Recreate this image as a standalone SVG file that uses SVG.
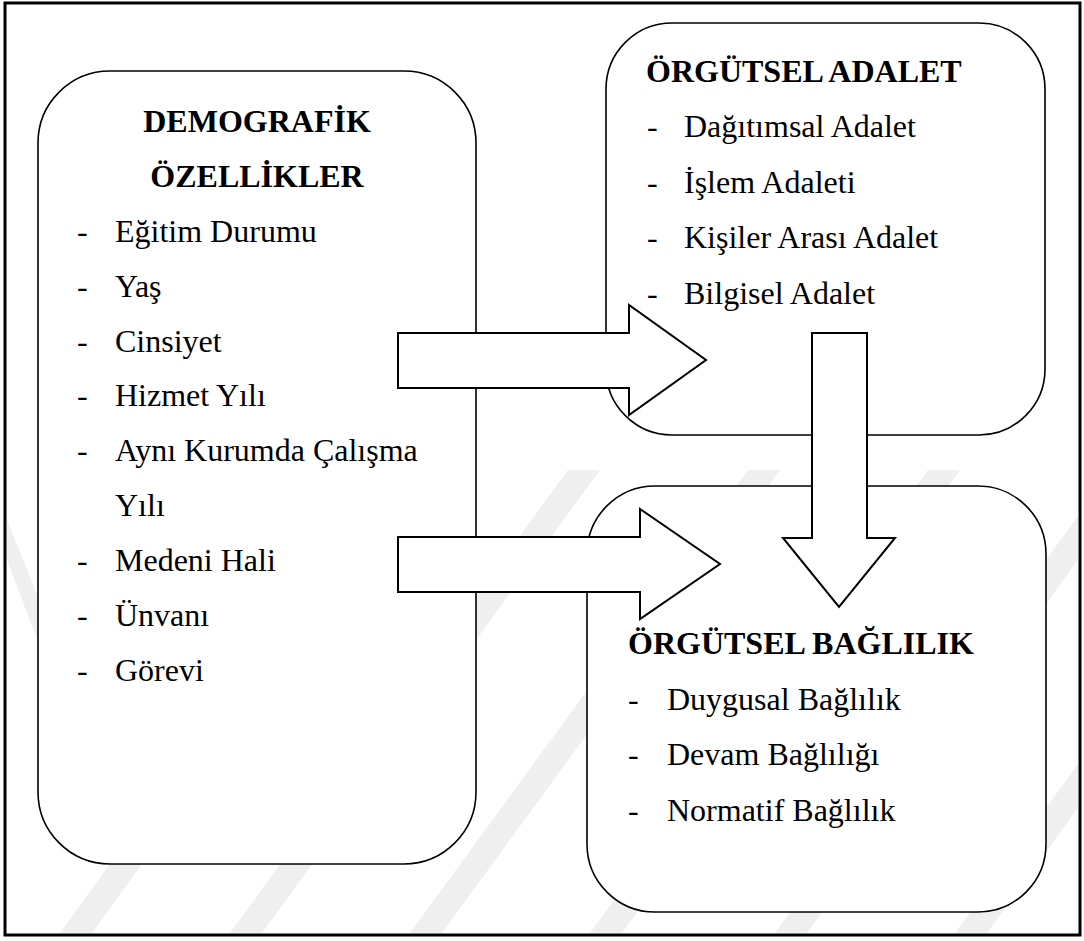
<svg xmlns="http://www.w3.org/2000/svg" width="1084" height="941" viewBox="0 0 1084 941">
  <style>
    .frame { fill: #ffffff; stroke: #000000; stroke-width: 3; }
    .box { fill: #ffffff; stroke: #000000; stroke-width: 1.6; }
    .arrow { fill: #ffffff; stroke: #000000; stroke-width: 2; stroke-linejoin: miter; }
    .stripe { fill: #efefef; }
    text { font-family: 'Liberation Serif', Tinos, 'Times New Roman', Times, 'Nimbus Roman', 'DejaVu Serif', serif; font-size: 32px; fill: #000000; }
    .title { font-weight: bold; }
  </style>

  <!-- outer frame -->
  <rect class="frame" x="5" y="3" width="1075" height="932"/>

  <!-- faint diagonal background bands -->
  <g id="watermark">
    <polygon class="stripe" points="7,520 7,560 60,700 80,700"/>
    <polygon class="stripe" points="60,933 92,933 420,480 388,480"/>
    <polygon class="stripe" points="230,933 262,933 600,470 568,470"/>
    <polygon class="stripe" points="410,933 442,933 780,470 748,470"/>
    <polygon class="stripe" points="590,933 622,933 960,470 928,470"/>
    <polygon class="stripe" points="775,933 807,933 1078,560 1078,516"/>
    <polygon class="stripe" points="955,933 987,933 1078,808 1078,764"/>
  </g>

  <!-- nodes -->
  <g id="demografik">
    <rect class="box" x="38" y="71" width="438" height="793" rx="72" ry="72"/>
    <text class="title" x="257" y="132" text-anchor="middle">DEMOGRAFİK</text>
    <text class="title" x="257" y="187" text-anchor="middle">ÖZELLİKLER</text>
    <text x="77" y="242">-</text><text x="115" y="242">Eğitim Durumu</text>
    <text x="77" y="297">-</text><text x="115" y="297">Yaş</text>
    <text x="77" y="352">-</text><text x="115" y="352">Cinsiyet</text>
    <text x="77" y="406">-</text><text x="115" y="406">Hizmet Yılı</text>
    <text x="77" y="461">-</text><text x="115" y="461">Aynı Kurumda Çalışma</text>
    <text x="115" y="516">Yılı</text>
    <text x="77" y="571">-</text><text x="115" y="571">Medeni Hali</text>
    <text x="77" y="626">-</text><text x="115" y="626">Ünvanı</text>
    <text x="77" y="681">-</text><text x="115" y="681">Görevi</text>
  </g>

  <g id="orgutsel-adalet">
    <rect class="box" x="606" y="23" width="439" height="412" rx="66" ry="66"/>
    <text class="title" x="646" y="82">ÖRGÜTSEL ADALET</text>
    <text x="647" y="137">-</text><text x="684" y="137">Dağıtımsal Adalet</text>
    <text x="647" y="193">-</text><text x="684" y="193">İşlem Adaleti</text>
    <text x="647" y="248">-</text><text x="684" y="248">Kişiler Arası Adalet</text>
    <text x="647" y="304">-</text><text x="684" y="304">Bilgisel Adalet</text>
  </g>

  <g id="orgutsel-baglilik">
    <rect class="box" x="587" y="486" width="459" height="426" rx="68" ry="68"/>
    <text class="title" x="628" y="654">ÖRGÜTSEL BAĞLILIK</text>
    <text x="628" y="710">-</text><text x="667" y="710">Duygusal Bağlılık</text>
    <text x="628" y="765">-</text><text x="667" y="765">Devam Bağlılığı</text>
    <text x="628" y="821">-</text><text x="667" y="821">Normatif Bağlılık</text>
  </g>

  <!-- block arrows -->
  <g id="connectors">
    <polygon class="arrow" points="398,333 629,333 629,305 706,360 629,415 629,388 398,388"/>
    <polygon class="arrow" points="398,537 640,537 640,509 720,564 640,619 640,592 398,592"/>
    <polygon class="arrow" points="812,333 867,333 867,538 895,538 839,607 783,538 812,538"/>
  </g>
</svg>
